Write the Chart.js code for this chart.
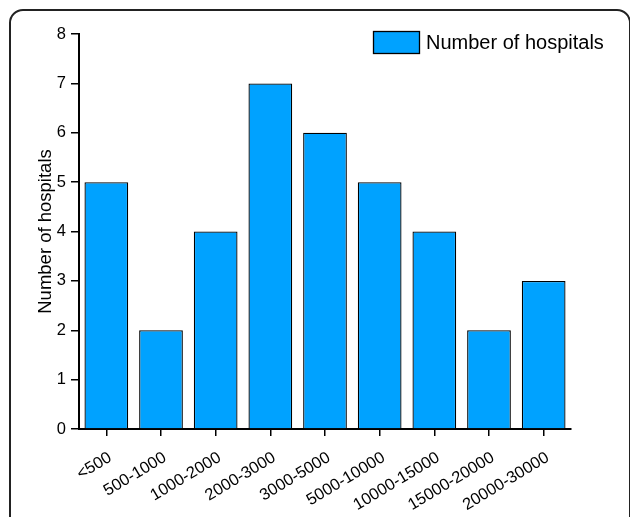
<!DOCTYPE html>
<html>
<head>
<meta charset="utf-8">
<script src="https://cdn.jsdelivr.net/npm/chart.js@4.4.0/dist/chart.umd.min.js"></script>
<style>
    html, body { margin: 0; padding: 0; background: #fff; overflow: hidden; }
    #wrap { position: relative; width: 630px; height: 517px; }
    #frame {
        position: absolute; left: 9px; top: 9px; width: 622px; height: 600px;
        border: 2px solid #222; border-radius: 14px; box-sizing: border-box;
    }
    canvas { position: absolute; left: 0; top: 0; }
</style>
</head>
<body>
<div id="wrap">
    <div id="frame"></div>
    <canvas id="chart" width="630" height="517"></canvas>
</div>
<script>
// Data
const categories = ['<500', '500-1000', '1000-2000', '2000-3000', '3000-5000',
    '5000-10000', '10000-15000', '15000-20000', '20000-30000'];
const hospitals = [5, 2, 4, 7, 6, 5, 4, 2, 3];
const yTicks = [0, 1, 2, 3, 4, 5, 6, 7, 8];
const seriesLabel = 'Number of hospitals';

const barColor = '#00a2ff';
const fontFamily = "'Liberation Sans', Arial, sans-serif";

// Draw the legend in the top right corner (it spills past the plot area)
const legendPlugin = {
    id: 'cornerLegend',
    afterDraw(chart) {
        const ctx = chart.ctx;
        const ds = chart.data.datasets[0];
        ctx.save();
        ctx.fillStyle = ds.backgroundColor;
        ctx.fillRect(373, 31, 46, 22);
        ctx.strokeStyle = '#000';
        ctx.lineWidth = 1.3;
        ctx.strokeRect(373.5, 31.5, 46, 22);
        ctx.fillStyle = '#000';
        ctx.font = '20px ' + fontFamily;
        ctx.textBaseline = 'middle';
        ctx.fillText(ds.label, 426, 43);
        ctx.restore();
    }
};

const ctx = document.getElementById('chart').getContext('2d');
new Chart(ctx, {
    type: 'bar',
    data: {
        labels: categories,
        datasets: [{
            label: seriesLabel,
            data: hospitals,
            backgroundColor: barColor,
            borderColor: '#000',
            borderWidth: 1.3,
            barPercentage: 0.8,
            categoryPercentage: 1.0
        }]
    },
    options: {
        responsive: false,
        animation: false,
        devicePixelRatio: 1,
        layout: { padding: { left: 20, top: 34, right: 59, bottom: 0 } },
        plugins: {
            legend: { display: false },
            tooltip: { enabled: false }
        },
        scales: {
            x: {
                afterFit: scale => { scale.height = 88; },
                grid: { offset: false, drawOnChartArea: false, drawTicks: true, tickLength: 7, color: '#000', lineWidth: 1.5 },
                border: { color: '#000', width: 2 },
                ticks: {
                    color: '#000',
                    font: { family: fontFamily, size: 16.5 },
                    minRotation: 31,
                    maxRotation: 31,
                    padding: 12,
                    labelOffset: 4
                }
            },
            y: {
                min: 0,
                max: 8,
                afterFit: scale => { scale.width = 59; },
                afterBuildTicks: scale => { scale.ticks = yTicks.map(v => ({ value: v })); },
                grid: { drawOnChartArea: false, drawTicks: true, tickLength: 8, color: '#000', lineWidth: 1.5 },
                border: { color: '#000', width: 2 },
                ticks: {
                    color: '#000',
                    font: { family: fontFamily, size: 16.5 },
                    padding: 5
                },
                title: {
                    display: true,
                    text: seriesLabel,
                    color: '#000',
                    font: { family: fontFamily, size: 18.5 },
                    padding: { top: 15, bottom: 0 }
                }
            }
        }
    },
    plugins: [legendPlugin]
});
</script>
</body>
</html>
